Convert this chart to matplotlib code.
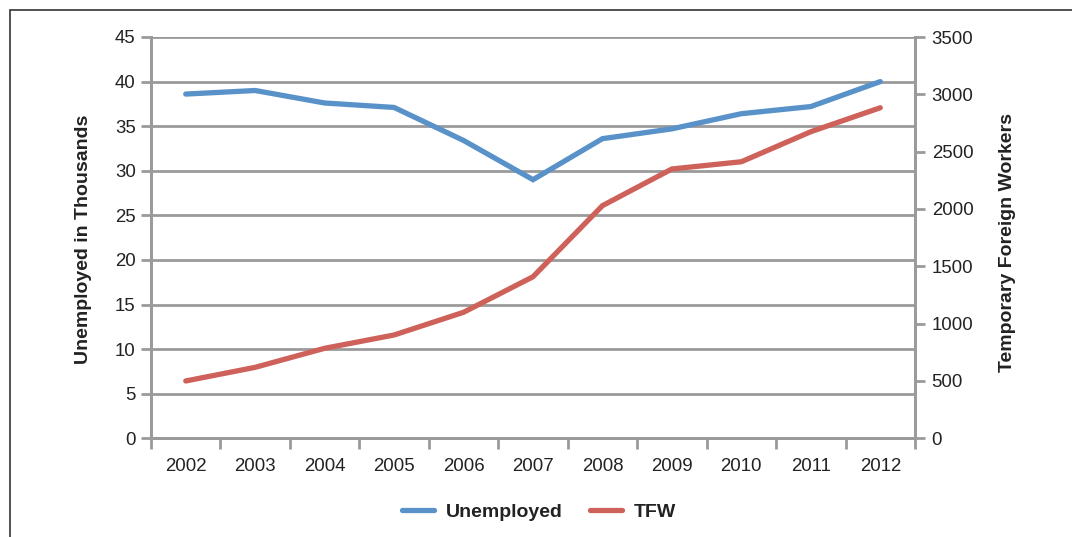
import numpy as np
import matplotlib
matplotlib.use("Agg")
import matplotlib.pyplot as plt
import matplotlib.patches as patches

years = ["2002", "2003", "2004", "2005", "2006", "2007", "2008", "2009", "2010", "2011", "2012"]
unemployed = [38.6, 39.0, 37.6, 37.1, 33.4, 29.0, 33.6, 34.7, 36.4, 37.2, 40.0]
tfw = [500, 619, 785, 901, 1099, 1409, 2029, 2349, 2412, 2674, 2883]

blue = "#5892C8"
red = "#CE625B"
gris = "#9a9a9a"
yazi = "#222222"

plt.rcParams["font.family"] = ["Liberation Sans", "DejaVu Sans"]

fig = plt.figure(figsize=(10.72, 5.37), dpi=100)
ax = fig.add_axes([151 / 1072, 1 - 438.3 / 537, 764 / 1072, 401.3 / 537])
ax2 = ax.twinx()

x = np.arange(len(years))
l1, = ax.plot(x, unemployed, color=blue, lw=3.8, solid_capstyle="round",
              solid_joinstyle="miter", label="Unemployed", zorder=3)
l2, = ax2.plot(x, tfw, color=red, lw=3.8, solid_capstyle="round",
               solid_joinstyle="miter", label="TFW", zorder=3)

ax.set_xlim(-0.5, len(years) - 0.5)
ax.set_ylim(0, 45)
ax2.set_ylim(0, 3500)
ax.set_yticks(range(0, 46, 5))
ax2.set_yticks(range(0, 3501, 500))
ax.set_xticks(x)
ax.set_xticklabels(years)
ax.set_xticks(np.arange(-0.5, len(years), 1), minor=True)
ax.tick_params(axis="x", which="major", length=0, pad=14, labelsize=13.4, labelcolor=yazi)
ax.tick_params(axis="x", which="minor", length=8, width=2, color=gris)
ax.tick_params(axis="y", length=7, width=2, color=gris, labelsize=13.4, labelcolor=yazi, pad=4)
ax2.tick_params(axis="y", length=7, width=2, color=gris, labelsize=13.4, labelcolor=yazi, pad=5)

ax.grid(True, axis="y", color=gris, lw=2)
ax.set_axisbelow(True)

for a in (ax, ax2):
    a.spines["top"].set_visible(False)
    for s in ("left", "right", "bottom"):
        a.spines[s].set_color(gris)
        a.spines[s].set_linewidth(2)

ax.set_ylabel("Unemployed in Thousands", fontsize=14, fontweight="bold", color=yazi)
ax.yaxis.set_label_coords(-0.077, 0.497)
ax2.set_ylabel("Temporary Foreign Workers", fontsize=14, fontweight="bold", color=yazi)
ax2.yaxis.set_label_coords(1.110, 0.487)

leg = fig.legend([l1, l2], ["Unemployed", "TFW"], loc="center",
                 bbox_to_anchor=(0.503, 1 - 512 / 537), ncol=2, frameon=False,
                 handlelength=1.65, columnspacing=1.4, handletextpad=0.6,
                 prop={"size": 14, "weight": "bold"})
for t in leg.get_texts():
    t.set_color(yazi)

cerceve = patches.Rectangle((10 / 1072, -0.2), 1.2, 1.2 - 10 / 537,
                            transform=fig.transFigure, fill=False,
                            edgecolor="#333333", lw=1.2)
fig.add_artist(cerceve)

fig.savefig("out.png", dpi=100)
